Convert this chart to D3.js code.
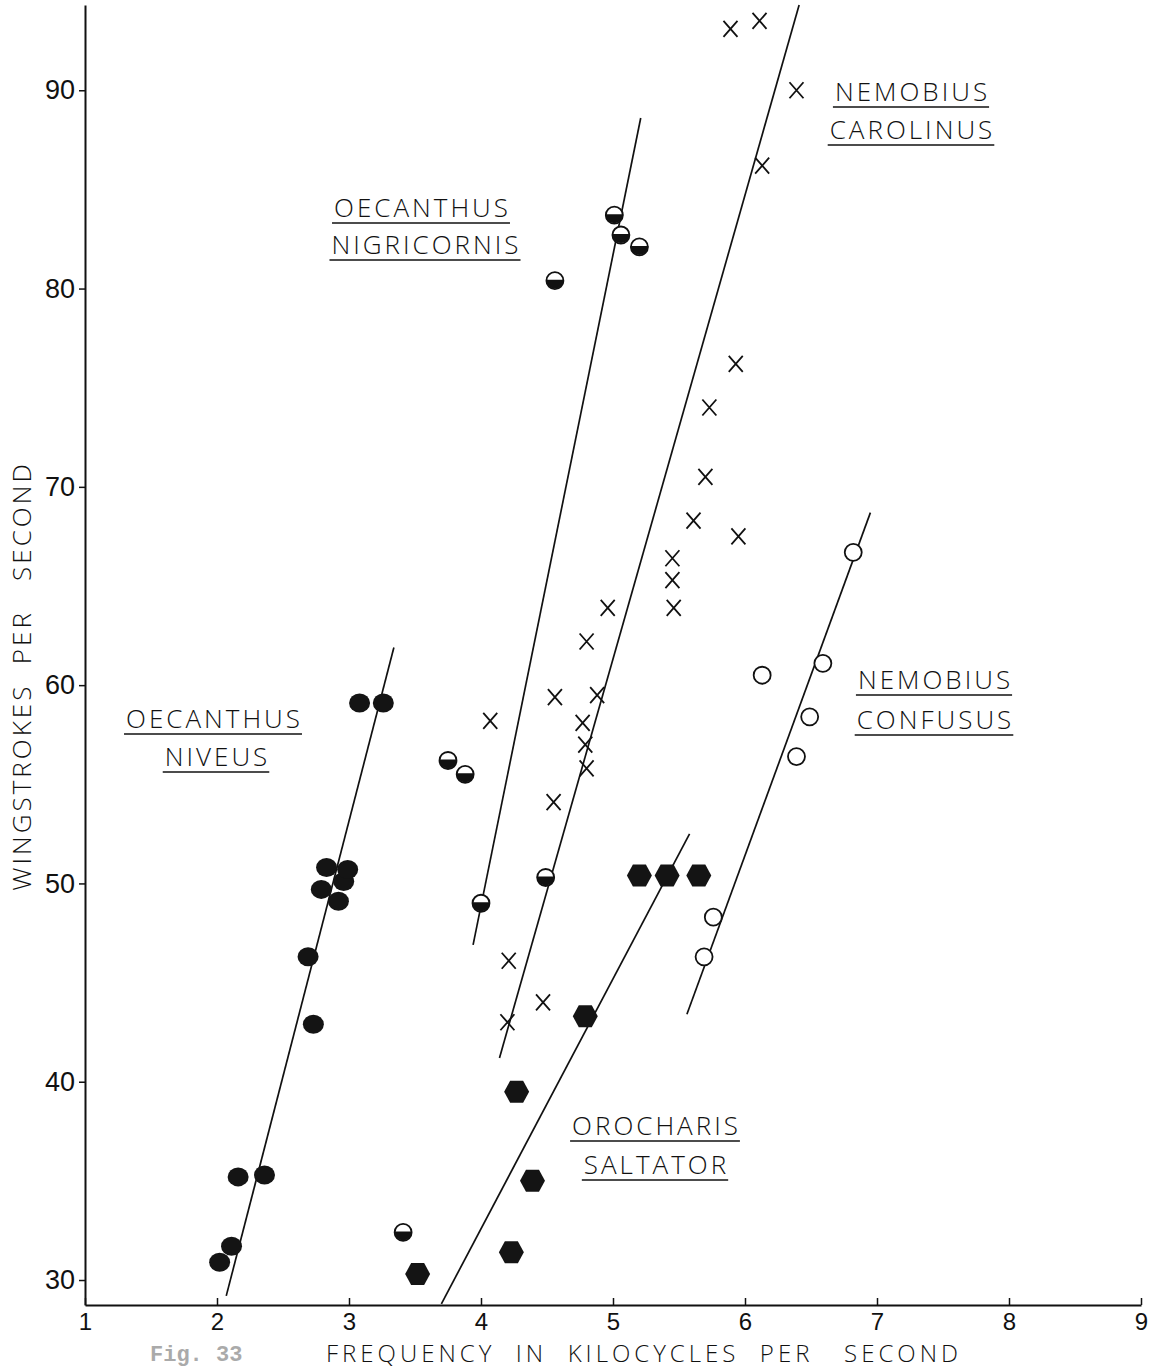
<!DOCTYPE html>
<html>
<head>
<meta charset="utf-8">
<script src="https://cdn.jsdelivr.net/npm/d3@7"></script>
<style>
  body { margin: 0; background: #fff; }
  svg text { font-family: "Open Sans", "DejaVu Sans", sans-serif; font-weight: 300; fill: #111; white-space: pre; }
</style>
</head>
<body>
<div id="chart"></div>
<script>
// Oecanthus niveus (filled circles)
const niveusX = [2.02, 2.11, 2.16, 2.36, 2.69, 2.73, 2.79, 2.83, 2.92, 2.96, 2.99, 3.08, 3.26];
const niveusY = [30.9, 31.7, 35.2, 35.3, 46.3, 42.9, 49.7, 50.8, 49.1, 50.1, 50.7, 59.1, 59.1];
// Oecanthus nigricornis (half-filled circles)
const nigriX = [4.56, 5.01, 5.06, 5.20, 3.75, 3.88, 3.41, 4.00, 4.49];
const nigriY = [80.4, 83.7, 82.7, 82.1, 56.2, 55.5, 32.4, 49.0, 50.3];
// Nemobius carolinus (crosses)
const caroX = [5.89, 6.11, 6.39, 6.13, 5.93, 5.73, 5.70, 5.61, 5.95, 5.45, 5.45, 5.46, 4.96, 4.80,
               4.56, 4.88, 4.07, 4.77, 4.79, 4.80, 4.55, 4.21, 4.20, 4.47];
const caroY = [93.1, 93.5, 90.0, 86.2, 76.2, 74.0, 70.5, 68.3, 67.5, 66.4, 65.3, 63.9, 63.9, 62.2,
               59.4, 59.5, 58.2, 58.1, 57.0, 55.8, 54.1, 46.1, 43.0, 44.0];
// Nemobius confusus (open circles)
const confX = [6.82, 6.59, 6.13, 6.49, 6.39, 5.76, 5.69];
const confY = [66.7, 61.1, 60.5, 58.4, 56.4, 48.3, 46.3];
// Orocharis saltator (hexagons)
const oroX = [5.20, 5.41, 5.65, 4.79, 4.27, 4.39, 4.23, 3.52];
const oroY = [50.4, 50.4, 50.4, 43.3, 39.5, 35.0, 31.4, 30.3];

// fitted lines drawn by hand on the original: [x1, y1, x2, y2]
const lineNiveus = [2.07, 29.2, 3.34, 61.9];
const lineNigri = [3.94, 46.9, 5.21, 88.6];
const lineCaro = [4.14, 41.2, 6.41, 94.3];
const lineOro = [3.70, 28.8, 5.58, 52.5];
const lineConf = [5.56, 43.4, 6.95, 68.7];

const xTicks = [1, 2, 3, 4, 5, 6, 7, 8, 9];
const yTicks = [30, 40, 50, 60, 70, 80, 90];

const width = 1162, height = 1369;

const svg = d3.select('#chart').append('svg')
  .attr('width', width)
  .attr('height', height);

const x = d3.scaleLinear().domain([1, 9]).range([85, 1141]);
const y = d3.scaleLinear().domain([28.74, 94.3]).range([1305, 5]);

// axes
const gx = svg.append('g')
  .attr('transform', 'translate(0,' + y(28.74) + ')')
  .call(d3.axisBottom(x).tickValues(xTicks).tickFormat(d3.format('d'))
    .tickSize(-7).tickSizeOuter(0).tickPadding(8));
gx.selectAll('text').style('font-size', '24px');

const gy = svg.append('g')
  .attr('transform', 'translate(' + x(1) + ',0)')
  .call(d3.axisLeft(y).tickValues(yTicks).tickFormat(d3.format('d'))
    .tickSize(6).tickSizeOuter(0).tickPadding(4));
gy.selectAll('text').style('font-size', '27px');

svg.selectAll('.domain').attr('stroke', '#111').attr('stroke-width', 2);
svg.selectAll('.tick line').attr('stroke', '#111').attr('stroke-width', 1.5);
svg.selectAll('.tick text')
  .style('font-family', '"Liberation Sans", Arial, sans-serif')
  .style('font-weight', 400)
  .attr('fill', '#111');

// axis titles
svg.append('text')
  .attr('x', 644).attr('y', 1361.5)
  .attr('text-anchor', 'middle')
  .style('font-size', '24px')
  .style('letter-spacing', '4px')
  .text('FREQUENCY  IN  KILOCYCLES  PER   SECOND');

svg.append('text')
  .attr('transform', 'translate(31,676) rotate(-90)')
  .attr('text-anchor', 'middle')
  .style('font-size', '26px')
  .style('letter-spacing', '3px')
  .text('WINGSTROKES  PER   SECOND');

svg.append('text')
  .attr('x', 150).attr('y', 1361)
  .style('font-family', '"Liberation Mono", monospace')
  .style('font-size', '22px')
  .style('font-weight', 700)
  .style('fill', '#aaa')
  .text('Fig. 33');

// regression lines
const lines = [lineNiveus, lineNigri, lineCaro, lineOro, lineConf];
svg.append('g').selectAll('line')
  .data(lines)
  .enter()
  .append('line')
  .attr('x1', function (d) { return x(d[0]); })
  .attr('y1', function (d) { return y(d[1]); })
  .attr('x2', function (d) { return x(d[2]); })
  .attr('y2', function (d) { return y(d[3]); })
  .attr('stroke', '#111')
  .attr('stroke-width', 1.7);

function pts(xs, ys) {
  return xs.map(function (v, i) { return { x: v, y: ys[i] }; });
}

// filled circles
svg.append('g').selectAll('ellipse')
  .data(pts(niveusX, niveusY))
  .enter()
  .append('ellipse')
  .attr('cx', function (d) { return x(d.x); })
  .attr('cy', function (d) { return y(d.y); })
  .attr('rx', 10.5).attr('ry', 9.5)
  .attr('fill', '#141414');

// half-filled circles
const half = svg.append('g').selectAll('g')
  .data(pts(nigriX, nigriY))
  .enter()
  .append('g')
  .attr('transform', function (d) { return 'translate(' + x(d.x) + ',' + y(d.y) + ')'; });
half.append('circle').attr('r', 8.5).attr('fill', '#fff').attr('stroke', '#111').attr('stroke-width', 1.8);
half.append('path').attr('d', 'M-9,-1 A9,9 0 0,0 9,-1 Z').attr('fill', '#111');

// crosses
svg.append('g').selectAll('path')
  .data(pts(caroX, caroY))
  .enter()
  .append('path')
  .attr('transform', function (d) { return 'translate(' + x(d.x) + ',' + y(d.y) + ')'; })
  .attr('d', 'M-7,-8 L7,8 M7,-8 L-7,8')
  .attr('stroke', '#111')
  .attr('stroke-width', 1.8)
  .attr('fill', 'none');

// open circles
svg.append('g').selectAll('circle')
  .data(pts(confX, confY))
  .enter()
  .append('circle')
  .attr('cx', function (d) { return x(d.x); })
  .attr('cy', function (d) { return y(d.y); })
  .attr('r', 8.5)
  .attr('fill', '#fff')
  .attr('stroke', '#111')
  .attr('stroke-width', 1.8);

// hexagons
const hex = 'M-12.5,0 L-6.5,-11 L6.5,-11 L12.5,0 L6.5,11 L-6.5,11 Z';
svg.append('g').selectAll('path')
  .data(pts(oroX, oroY))
  .enter()
  .append('path')
  .attr('transform', function (d) { return 'translate(' + x(d.x) + ',' + y(d.y) + ')'; })
  .attr('d', hex)
  .attr('fill', '#141414');

// species labels, underlined
const labels = [
  { t: 'OECANTHUS', cx: 213, cy: 728 },
  { t: 'NIVEUS', cx: 216, cy: 766 },
  { t: 'OECANTHUS', cx: 421, cy: 217 },
  { t: 'NIGRICORNIS', cx: 425, cy: 254 },
  { t: 'NEMOBIUS', cx: 911, cy: 101 },
  { t: 'CAROLINUS', cx: 911, cy: 139 },
  { t: 'NEMOBIUS', cx: 934, cy: 689 },
  { t: 'CONFUSUS', cx: 934, cy: 729 },
  { t: 'OROCHARIS', cx: 655, cy: 1135 },
  { t: 'SALTATOR', cx: 655, cy: 1174 }
];
const lab = svg.append('g').selectAll('g')
  .data(labels)
  .enter()
  .append('g');
lab.append('text')
  .attr('x', function (d) { return d.cx + 1.5; })
  .attr('y', function (d) { return d.cy; })
  .attr('text-anchor', 'middle')
  .style('font-size', '26px')
  .style('letter-spacing', '3px')
  .text(function (d) { return d.t; });
lab.each(function (d) {
  const w = d3.select(this).select('text').node().getComputedTextLength() - 3;
  d3.select(this).append('line')
    .attr('x1', d.cx - w / 2 - 2).attr('x2', d.cx + w / 2 + 2)
    .attr('y1', d.cy + 6).attr('y2', d.cy + 6)
    .attr('stroke', '#111').attr('stroke-width', 1.6);
});
</script>
</body>
</html>
